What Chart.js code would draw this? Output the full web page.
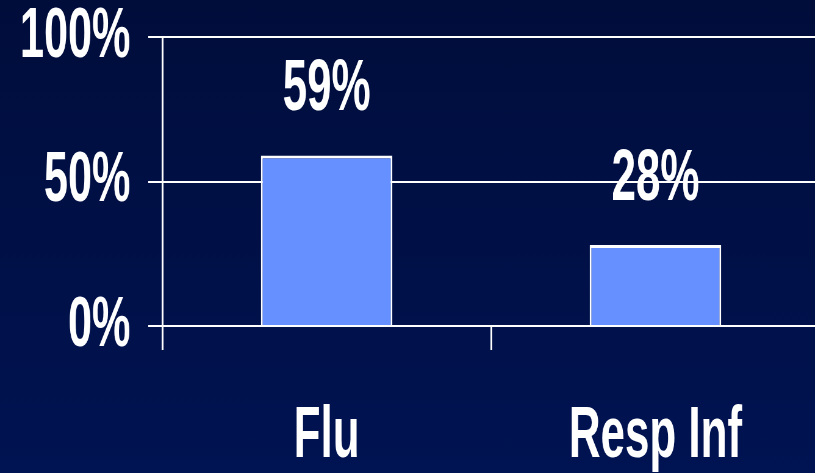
<!DOCTYPE html>
<html>
<head>
<meta charset="utf-8">
<script src="https://cdn.jsdelivr.net/npm/chart.js@4/dist/chart.umd.min.js"></script>
<style>
  html, body { margin: 0; padding: 0; overflow: hidden; }
  body { width: 815px; height: 473px; background: linear-gradient(#000d3b, #001352); }
  /* the original text is very condensed, so the whole chart is squeezed sideways */
  #wrap { width: 1344px; height: 473px; transform: scaleX(0.61); transform-origin: 0 0; }
</style>
</head>
<body>
<div id="wrap"><canvas id="chart"></canvas></div>
<script>
const categories = ["Flu", "Resp Inf"];
const percents = [59, 28];
const yTicks = [0, 50, 100];

const font = "'Liberation Sans', Arial, sans-serif";

const valueLabels = {
    id: 'valueLabels',
    afterDatasetsDraw(chart) {
        const ctx = chart.ctx;
        ctx.save();
        ctx.fillStyle = '#ffffff';
        ctx.font = "bold 72px " + font;
        ctx.textAlign = 'center';
        ctx.textBaseline = 'alphabetic';
        chart.getDatasetMeta(0).data.forEach((bar, i) => {
            ctx.fillText(percents[i] + '%', bar.x, bar.y - 45);
        });
        ctx.restore();
    }
};

const ctx = document.getElementById("chart");
new Chart(ctx, {
    type: 'bar',
    data: {
        labels: categories,
        datasets: [{
            data: percents,
            backgroundColor: "#6690ff",
            borderColor: "#ffffff",
            borderWidth: 3,
            barPercentage: 0.4,
            categoryPercentage: 1
        }]
    },
    options: {
        responsive: true,
        maintainAspectRatio: false,
        animation: false,
        layout: { padding: { top: 37, left: 0, right: 0, bottom: 0 } },
        plugins: {
            legend: { display: false },
            tooltip: { enabled: false }
        },
        scales: {
            x: {
                afterFit: s => { s.height = 147; },
                grid: {
                    offset: true,
                    drawOnChartArea: false,
                    color: '#ffffff',
                    lineWidth: 3,
                    tickLength: 24
                },
                border: { color: '#ffffff', width: 2 },
                ticks: {
                    color: '#ffffff',
                    padding: 44,
                    font: { family: font, size: 72, weight: 'bold', lineHeight: 1.2 }
                }
            },
            y: {
                min: 0,
                max: 100,
                afterFit: s => { s.width = 266; s.paddingTop = 0; s.paddingBottom = 0; },
                afterBuildTicks: s => { s.ticks = yTicks.map(v => ({value: v})); },
                grid: {
                    color: '#ffffff',
                    lineWidth: 2,
                    tickLength: 23
                },
                border: { color: '#ffffff', width: 3 },
                ticks: {
                    color: '#ffffff',
                    padding: 29,
                    callback: v => v + '%',
                    font: { family: font, size: 71, weight: 'bold', lineHeight: 1 }
                }
            }
        }
    },
    plugins: [valueLabels]
});
</script>
</body>
</html>
